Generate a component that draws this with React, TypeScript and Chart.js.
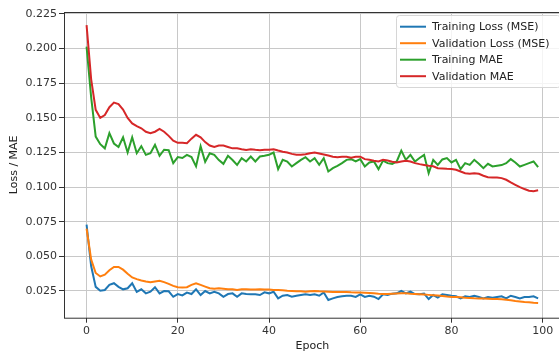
import React, { useEffect, useRef } from "react";
import { Chart, registerables } from "chart.js";

Chart.register(...registerables);

const EPOCHS: number[] = Array.from({ length: 100 }, (_, i) => i);

const TRAIN_LOSS: number[] = [
  0.073, 0.043, 0.028, 0.0252, 0.0257, 0.0294, 0.0306, 0.028, 0.0262, 0.027,
  0.0306, 0.0243, 0.0262, 0.0233, 0.0245, 0.0277, 0.0233, 0.025, 0.0248, 0.0208,
  0.0228, 0.0218, 0.0238, 0.0228, 0.0262, 0.0221, 0.025, 0.0233, 0.0245, 0.0233,
  0.0208, 0.0228, 0.0233, 0.0208, 0.0233, 0.0228, 0.0226, 0.0226, 0.0221, 0.024,
  0.0233, 0.0245, 0.0197, 0.0216, 0.0221, 0.0209, 0.0216, 0.0221, 0.0226, 0.0221,
  0.0226, 0.0216, 0.024, 0.0185, 0.0197, 0.0207, 0.0212, 0.0216, 0.0216, 0.0207,
  0.0226, 0.0207, 0.0216, 0.0209, 0.0192, 0.0226, 0.0221, 0.0231, 0.0233, 0.025,
  0.0233, 0.0245, 0.0228, 0.0226, 0.0231, 0.0192, 0.0221, 0.0202, 0.0226, 0.0221,
  0.0216, 0.0212, 0.0197, 0.0212, 0.0207, 0.0216, 0.0207, 0.0197, 0.0207, 0.0202,
  0.0207, 0.0212, 0.0197, 0.0216, 0.0207, 0.0197, 0.0207, 0.0207, 0.0212, 0.0197,
];

const VAL_LOSS: number[] = [
  0.070, 0.0478, 0.038, 0.0355, 0.0368, 0.040, 0.0424, 0.0424, 0.0404, 0.0375,
  0.0348, 0.0336, 0.0326, 0.0319, 0.0314, 0.0319, 0.0324, 0.0314, 0.0301, 0.0287,
  0.0277, 0.0275, 0.0277, 0.0294, 0.0306, 0.0294, 0.0282, 0.027, 0.0267, 0.027,
  0.0267, 0.0262, 0.0262, 0.0257, 0.0262, 0.0262, 0.026, 0.026, 0.0262, 0.026,
  0.026, 0.0257, 0.0257, 0.0255, 0.0252, 0.025, 0.0248, 0.0248, 0.0245, 0.0248,
  0.025, 0.0248, 0.0247, 0.0245, 0.0243, 0.0243, 0.0242, 0.0243, 0.0241, 0.024,
  0.024, 0.0238, 0.0236, 0.0233, 0.023, 0.0228, 0.0228, 0.023, 0.0232, 0.0233,
  0.0233, 0.023, 0.0228, 0.0226, 0.0224, 0.0222, 0.022, 0.0218, 0.0214, 0.021,
  0.0207, 0.0206, 0.0204, 0.0201, 0.0199, 0.0197, 0.0196, 0.0195, 0.0194, 0.0193,
  0.0192, 0.019, 0.0187, 0.0183, 0.0178, 0.0175, 0.0171, 0.0168, 0.0165, 0.0163,
];

const TRAIN_MAE: number[] = [
  0.2014, 0.165, 0.1365, 0.131, 0.128, 0.139, 0.1315, 0.129, 0.136, 0.125,
  0.136, 0.1245, 0.1296, 0.1233, 0.1245, 0.1306, 0.1226, 0.127, 0.1267, 0.1173,
  0.1217, 0.121, 0.1233, 0.1217, 0.115, 0.1296, 0.1183, 0.1245, 0.1233, 0.1195,
  0.1168, 0.1226, 0.1196, 0.116, 0.1209, 0.1185, 0.1221, 0.1185, 0.1221, 0.1226,
  0.1233, 0.125, 0.113, 0.1197, 0.1185, 0.1149, 0.1173, 0.1197, 0.1216, 0.1185,
  0.1209, 0.1161, 0.1209, 0.1113, 0.1137, 0.1154, 0.1173, 0.1197, 0.1202, 0.1185,
  0.1202, 0.1149, 0.1178, 0.1185, 0.113, 0.1192, 0.1173, 0.1168, 0.1185, 0.1264,
  0.1197, 0.1233, 0.1185, 0.121, 0.1233, 0.110, 0.1197, 0.116, 0.120, 0.121,
  0.1178, 0.1197, 0.113, 0.1173, 0.1161, 0.1197, 0.1168, 0.1137, 0.1168, 0.1149,
  0.1154, 0.1159, 0.1173, 0.1202, 0.1178, 0.1149, 0.1161, 0.1173, 0.1185, 0.1144,
];

const VAL_MAE: number[] = [
  0.217, 0.178, 0.1558, 0.150, 0.152, 0.1577, 0.161, 0.160, 0.156, 0.150,
  0.146, 0.144, 0.1425, 0.140, 0.139, 0.140, 0.142, 0.140, 0.137, 0.1336,
  0.132, 0.132, 0.1317, 0.135, 0.1378, 0.136, 0.1325, 0.130, 0.129, 0.130,
  0.130, 0.129, 0.128, 0.128, 0.1274, 0.1269, 0.1274, 0.127, 0.1267, 0.127,
  0.127, 0.1274, 0.1264, 0.1255, 0.125, 0.124, 0.1233, 0.1233, 0.1238, 0.1245,
  0.125, 0.1243, 0.1236, 0.1228, 0.122, 0.1216, 0.122, 0.122, 0.1213, 0.122,
  0.122, 0.1202, 0.1197, 0.119, 0.1185, 0.1197, 0.1192, 0.1183, 0.1178, 0.1185,
  0.119, 0.1185, 0.1173, 0.1166, 0.116, 0.1154, 0.115, 0.1137, 0.1135, 0.1132,
  0.113, 0.1125, 0.1113, 0.110, 0.1096, 0.110, 0.1096, 0.1082, 0.1072, 0.107,
  0.107, 0.1065, 0.1053, 0.1034, 0.1017, 0.100, 0.0986, 0.0974, 0.0971, 0.0978,
];

const SERIES_LABELS: string[] = [
  "Training Loss (MSE)",
  "Validation Loss (MSE)",
  "Training MAE",
  "Validation MAE",
];
const SERIES_COLORS: string[] = ["#1f77b4", "#ff7f0e", "#2ca02c", "#d62728"];

const X_TICKS: number[] = [0, 20, 40, 60, 80, 100];
const Y_TICKS: number[] = [0.025, 0.05, 0.075, 0.1, 0.125, 0.15, 0.175, 0.2, 0.225];

const FONT = "'DejaVu Sans', sans-serif";

const framePlugin = {
  id: "frameAndLegend",
  afterDraw(chart: any) {
    const { ctx, chartArea } = chart;
    ctx.save();
    ctx.strokeStyle = "#333333";
    ctx.lineWidth = 1;
    ctx.strokeRect(
      Math.round(chartArea.left) + 0.5,
      Math.round(chartArea.top) + 0.5,
      chartArea.right - chartArea.left,
      chartArea.bottom - chartArea.top
    );

    // legend (upper right)
    const bx = 396.5;
    const by = 15.5;
    const bw = 164;
    const bh = 72;
    const r = 3;
    ctx.beginPath();
    ctx.moveTo(bx + r, by);
    ctx.lineTo(bx + bw - r, by);
    ctx.arcTo(bx + bw, by, bx + bw, by + r, r);
    ctx.lineTo(bx + bw, by + bh - r);
    ctx.arcTo(bx + bw, by + bh, bx + bw - r, by + bh, r);
    ctx.lineTo(bx + r, by + bh);
    ctx.arcTo(bx, by + bh, bx, by + bh - r, r);
    ctx.lineTo(bx, by + r);
    ctx.arcTo(bx, by, bx + r, by, r);
    ctx.closePath();
    ctx.fillStyle = "rgba(255,255,255,0.8)";
    ctx.fill();
    ctx.strokeStyle = "#d6d6d6";
    ctx.stroke();

    ctx.font = `11px ${FONT}`;
    ctx.textBaseline = "middle";
    ctx.textAlign = "left";
    chart.data.datasets.forEach((ds: any, i: number) => {
      const y = 26.7 + i * 16.5;
      ctx.strokeStyle = ds.borderColor;
      ctx.lineWidth = 2;
      ctx.beginPath();
      ctx.moveTo(400, y);
      ctx.lineTo(426, y);
      ctx.stroke();
      ctx.fillStyle = "#222222";
      ctx.fillText(ds.label, 432, y + 0.5);
    });
    ctx.restore();
  },
};

export default function App() {
  const canvasRef = useRef<HTMLCanvasElement | null>(null);

  useEffect(() => {
    if (!canvasRef.current) return;
    const series = [TRAIN_LOSS, VAL_LOSS, TRAIN_MAE, VAL_MAE];
    const chart = new Chart(canvasRef.current, {
      type: "line",
      data: {
        datasets: series.map((vals, i) => ({
          label: SERIES_LABELS[i],
          data: vals.map((v, j) => ({ x: EPOCHS[j], y: v })),
          borderColor: SERIES_COLORS[i],
          backgroundColor: SERIES_COLORS[i],
          borderWidth: 2,
          pointRadius: 0,
          tension: 0,
          fill: false,
          order: series.length - 1 - i,
        })),
      },
      options: {
        animation: false,
        responsive: false,
        devicePixelRatio: 1,
        layout: { padding: { left: 0, right: 9.3, top: 12, bottom: 0 } },
        plugins: {
          legend: { display: false },
          tooltip: { enabled: false },
        },
        scales: {
          x: {
            type: "linear",
            min: -4.95,
            max: 103.95,
            afterFit: (s: any) => {
              s.height = 41.3;
            },
            afterBuildTicks: (s: any) => {
              s.ticks = X_TICKS.map((v) => ({ value: v }));
            },
            grid: {
              color: "#c8c8c8",
              lineWidth: 1,
              drawTicks: true,
              tickLength: 5,
              tickColor: "#333333",
              tickWidth: 1,
            },
            border: { display: false },
            ticks: {
              color: "#333333",
              font: { family: FONT, size: 11 },
              padding: 2,
              maxRotation: 0,
              autoSkip: false,
              callback: (v: any) => String(v),
            },
            title: {
              display: true,
              text: "Epoch",
              color: "#222222",
              font: { family: FONT, size: 11 },
              padding: { top: 0, bottom: 6 },
            },
          },
          y: {
            type: "linear",
            min: 0.00572,
            max: 0.22644,
            afterFit: (s: any) => {
              s.width = 64;
            },
            afterBuildTicks: (s: any) => {
              s.ticks = Y_TICKS.map((v) => ({ value: v }));
            },
            grid: {
              color: "#c8c8c8",
              lineWidth: 1,
              drawTicks: true,
              tickLength: 5,
              tickColor: "#333333",
              tickWidth: 1,
            },
            border: { display: false },
            ticks: {
              color: "#333333",
              font: { family: FONT, size: 11 },
              padding: 2,
              autoSkip: false,
              callback: (v: any) => Number(v).toFixed(3),
            },
            title: {
              display: true,
              text: "Loss / MAE",
              color: "#222222",
              font: { family: FONT, size: 11 },
              padding: { top: 8, bottom: 0 },
            },
          },
        },
      },
      plugins: [framePlugin],
    });
    return () => chart.destroy();
  }, []);

  return (
    <div
      style={{
        position: "fixed",
        left: 0,
        top: 0,
        width: 559,
        height: 359,
        overflow: "hidden",
        background: "#ffffff",
      }}
    >
      <canvas
        ref={canvasRef}
        width={570}
        height={359}
        style={{ display: "block", width: 570, height: 359 }}
      />
    </div>
  );
}
